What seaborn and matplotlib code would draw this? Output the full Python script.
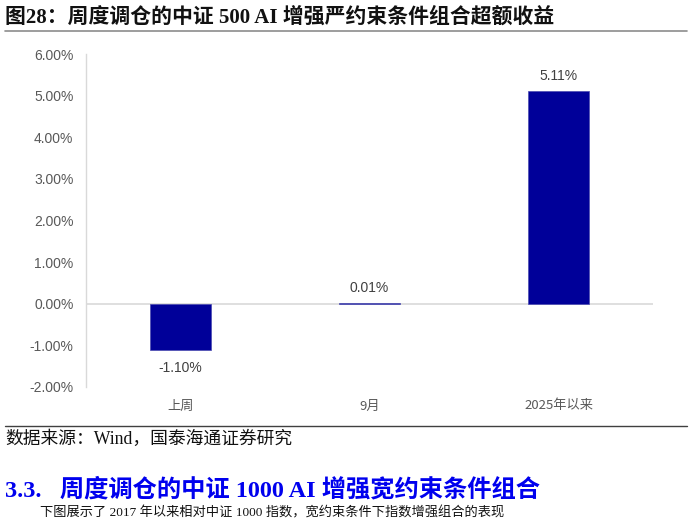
import matplotlib
matplotlib.use("Agg")
import matplotlib.pyplot as plt
import seaborn as sns
import pandas as pd

# Data
categories = ["上周", "9月", "2025年以来"]
excess_returns = [-1.10, 0.01, 5.11]
value_labels = ["-1.10%", "0.01%", "5.11%"]
y_ticks = [-2, -1, 0, 1, 2, 3, 4, 5, 6]

df = pd.DataFrame({"period": categories, "ret": excess_returns})

sns.set_theme(style="white")
plt.rcParams['font.family'] = ['Liberation Sans', 'Noto Sans CJK SC', 'DejaVu Sans']

fig = plt.figure(figsize=(6.92, 5.2), dpi=100)
ax = fig.add_axes([86 / 692, 1 - 387 / 520, (653 - 86) / 692, (387 - 54) / 520])

sns.barplot(data=df, x="period", y="ret", color="#000099", width=0.32,
            edgecolor="#4a4ab0", linewidth=0.5, saturation=1, ax=ax)

ax.set_ylim(-2, 6)
ax.set_xlim(-0.5, 2.5)
ax.set_yticks(y_ticks)
ax.set_yticklabels([f"{t:.2f}%" for t in y_ticks])
ax.axhline(0, color="#d9d9d9", linewidth=1.2, zorder=0)
ax.set_xlabel("")
ax.set_ylabel("")
for s in ["top", "right", "bottom"]:
    ax.spines[s].set_visible(False)
ax.spines["left"].set_color("#d9d9d9")
ax.spines["left"].set_linewidth(1)
ax.tick_params(axis="y", length=0, labelsize=10, labelcolor="#595959", pad=9)
ax.tick_params(axis="x", length=0, labelsize=9.5, labelcolor="#595959", pad=9)

for lbl in ax.get_xticklabels():
    lbl.set_fontfamily(['Noto Sans CJK SC', 'DejaVu Sans'])
    lbl.set_fontweight('light')

# value labels above / below the bars
for i, (v, t) in enumerate(zip(excess_returns, value_labels)):
    off = 0.37 if v >= 0 else -0.45
    ax.text(i, v + off, t, ha="center", va="center", fontsize=10, color="#404040")

# Header / footer texts
fig.text(5 / 692, 1 - 17 / 520, "图28：周度调仓的中证 500 AI 增强严约束条件组合超额收益",
         fontsize=15, fontweight="bold", color="#111111", va="center", ha="left",
         family=['Liberation Serif', 'Noto Sans CJK SC'])
fig.add_artist(plt.Line2D([5 / 692, 687 / 692], [1 - 31 / 520, 1 - 31 / 520],
                          color="#8c8c8c", linewidth=1.2))
fig.add_artist(plt.Line2D([5 / 692, 687 / 692], [1 - 426 / 520, 1 - 426 / 520],
                          color="#404040", linewidth=1))
fig.text(5 / 692, 1 - 439 / 520, "数据来源：Wind，国泰海通证券研究",
         fontsize=12.8, color="#111111", va="center", ha="left",
         family=['Liberation Serif', 'Noto Sans CJK SC'])
fig.text(5 / 692, 1 - 490 / 520, "3.3.   周度调仓的中证 1000 AI 增强宽约束条件组合",
         fontsize=17.5, fontweight="bold", color="#0000ee", va="center", ha="left",
         family=['Liberation Serif', 'Noto Sans CJK SC'])
fig.text(40 / 692, 1 - 519 / 520, "下图展示了 2017 年以来相对中证 1000 指数，宽约束条件下指数增强组合的表现",
         fontsize=9.5, color="#111111", va="bottom", ha="left",
         family=['Liberation Serif', 'Noto Sans CJK SC'])

fig.savefig("out.png", dpi=100)
